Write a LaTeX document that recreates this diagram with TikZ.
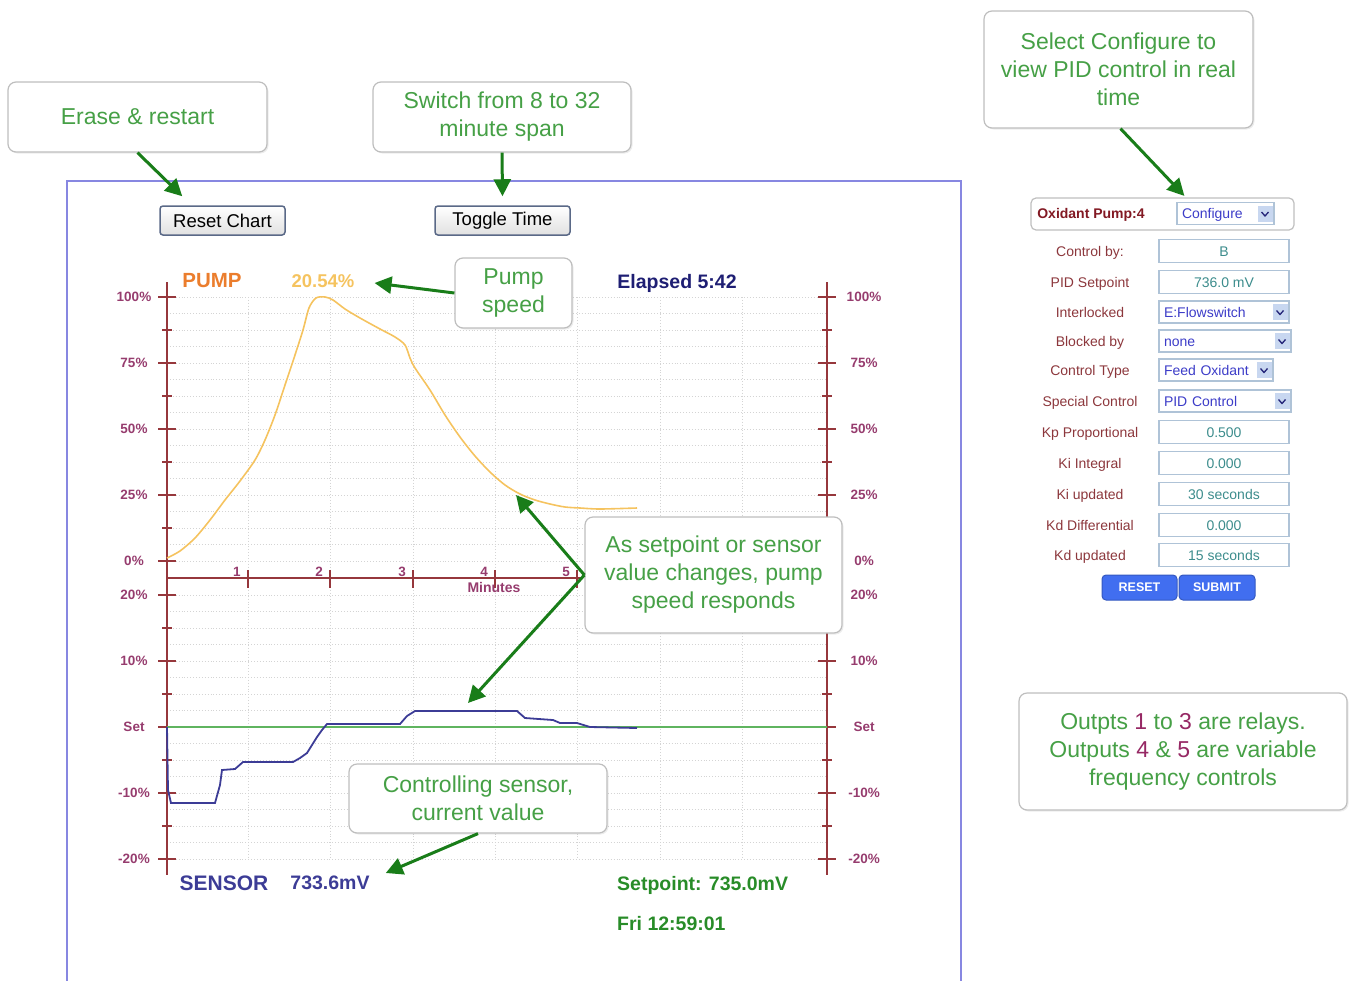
\documentclass[tikz,border=0pt]{standalone}
\usepackage{fontspec}
\setmainfont{Liberation Sans}
\usepackage{tikz}
\usetikzlibrary{positioning}
\usetikzlibrary{arrows.meta}
\usetikzlibrary{shadows}
\definecolor{notegreen}{RGB}{70,160,70}
\definecolor{notegray}{RGB}{190,190,190}
\definecolor{arrowgreen}{RGB}{25,125,25}
\definecolor{frameblue}{RGB}{135,135,225}
\definecolor{axisred}{RGB}{150,55,60}
\definecolor{axispurple}{RGB}{150,60,110}
\definecolor{pumporange}{RGB}{235,125,45}
\definecolor{pumpyellow}{RGB}{245,195,95}
\definecolor{elapsedblue}{RGB}{30,30,115}
\definecolor{sensorblue}{RGB}{60,60,150}
\definecolor{setgreen}{RGB}{40,140,40}
\definecolor{setline}{RGB}{95,180,95}
\definecolor{rowred}{RGB}{140,55,60}
\definecolor{headred}{RGB}{130,25,35}
\definecolor{fieldteal}{RGB}{60,140,140}
\definecolor{dropblue}{RGB}{60,60,200}
\definecolor{fieldedge}{RGB}{175,195,215}
\definecolor{btnlight}{RGB}{200,215,240}
\definecolor{btnblue}{RGB}{65,110,240}
\definecolor{btnedge}{RGB}{90,105,135}
\definecolor{numpurple}{RGB}{150,40,100}
\tikzstyle{note} = [rectangle, rounded corners=8pt, draw=notegray, line width=1.2pt, fill=white, text=notegreen, align=center, inner sep=0pt, font=\fontsize{23}{28}\selectfont, drop shadow={opacity=0.15, shadow xshift=1.5pt, shadow yshift=-1.5pt}]
\tikzstyle{arrow} = [line width=3pt, draw=arrowgreen, -{Triangle[length=17pt, width=17pt]}]
\tikzstyle{chartbtn} = [rectangle, rounded corners=3pt, draw=btnedge, line width=1.5pt, top color=white, bottom color=black!12, inner sep=0pt, minimum height=29pt, font=\fontsize{18.5}{20}\selectfont]
\tikzstyle{chartaxis} = [draw=axisred, line width=1.6pt]
\tikzstyle{gridline} = [draw=black!17, dotted, line width=0.9pt]
\tikzstyle{axlbl} = [text=axispurple, inner sep=0pt, text depth=0pt, font=\bfseries\fontsize{13.5}{15}\selectfont]
\tikzstyle{chartlbl} = [inner sep=0pt, text depth=0pt, font=\bfseries\fontsize{19.5}{22}\selectfont]
\tikzstyle{rowlbl} = [text=rowred, inner sep=0pt, text depth=0pt, font=\fontsize{14}{16}\selectfont]
\tikzstyle{field} = [rectangle, draw=fieldedge, line width=1.2pt, text=fieldteal, minimum width=130pt, minimum height=23pt, inner sep=0pt, text height=11pt, text depth=1pt, font=\fontsize{14}{16}\selectfont]
\tikzstyle{dropbox} = [rectangle, draw=fieldedge, line width=1.2pt, text=dropblue, minimum height=22pt, inner xsep=5pt, inner ysep=0pt, align=left, text height=11pt, text depth=1pt, font=\fontsize{14}{16}\selectfont]
\tikzstyle{dropbtn} = [rectangle, fill=btnlight, minimum width=15pt, minimum height=16pt, inner sep=0pt]
\tikzstyle{chev} = [draw=dropblue!60!black, line width=1.3pt]
\tikzstyle{formbtn} = [rectangle, rounded corners=4pt, fill=btnblue, draw=btnblue!80!black, line width=1pt, text=white, minimum height=25pt, inner sep=0pt, font=\bfseries\fontsize{12.5}{14}\selectfont]
\tikzstyle{panelhead} = [rectangle, rounded corners=5pt, draw=black!25, line width=1.2pt, minimum width=263pt, minimum height=32pt]
\newcommand{\outnum}[1]{\textcolor{numpurple}{#1}}
\newcommand{\dropArrow}[2]{\node (#1) [dropbtn] at (#2) {};
  \draw [chev] ([shift={(-3.5,-1.5)}]#1.center) -- ([shift={(0,2.5)}]#1.center) -- ([shift={(3.5,-1.5)}]#1.center);}

\begin{document}
\begin{tikzpicture}[x=1pt, y=-1pt, node distance=134pt]
        \useasboundingbox (0,0) rectangle (1351,980);
        \draw [draw=frameblue, line width=2pt] (67,990) -- (67,181) -- (961,181) -- (961,990);

        \foreach \k in {0,...,16} {
            \draw [gridline] (167,297+16.5*\k) -- (827,297+16.5*\k);
            \draw [gridline] (167,595+16.5*\k) -- (827,595+16.5*\k);
        }
        \foreach \x in {248,330,413,495,577,660,742} {\draw [gridline] (\x,297) -- (\x,859);}

        \draw [chartaxis] (167,282) -- (167,875);
        \draw [chartaxis] (827,282) -- (827,875);
        \draw [chartaxis, line width=2pt] (167,578) -- (582,578);
        \foreach \y/\lbl in {297/100\%,363/75\%,429/50\%,495/25\%,561/0\%,595/20\%,661/10\%,727/Set,793/-10\%,859/-20\%} {
            \draw [chartaxis] (158,\y) -- (176,\y);
            \draw [chartaxis] (818,\y) -- (836,\y);
            \node (lft\y) [axlbl] at (134,\y) {\lbl};
            \node (rgt\y) [axlbl] at (864,\y) {\lbl};
        }
        \foreach \y in {330,396,462,528,628,694,760,826} {
            \draw [chartaxis] (162,\y) -- (172,\y);
            \draw [chartaxis] (822,\y) -- (832,\y);
        }
        \foreach \x/\m in {248/1,330/2,413/3,495/4,577/5} {
            \draw [chartaxis] (\x,570) -- (\x,588);
            \node (min\m) [axlbl] at (\x-11,572) {\m};
        }
        \node (minutes) [axlbl, font=\bfseries\fontsize{14}{16}\selectfont] at (494,587) {Minutes};

        \draw [draw=setline, line width=1.5pt] (167,727) -- (827,727);
        \draw [draw=pumpyellow, line width=1.6pt] plot[smooth] coordinates {(167,558) (180,551) (195,538) (210,520) (225,500) (240,481) (255,460) (265,440) (275,415) (285,385) (295,355) (303,330) (309,308) (316,298) (325,297) (333,300) (345,309) (360,318) (380,329) (395,337) (405,345) (410,358) (415,368) (430,390) (445,415) (460,437) (475,456) (490,472) (505,485) (520,494) (535,500) (550,504) (565,507) (580,508) (600,509) (637,508)};
        \draw [draw=sensorblue, line width=1.8pt] (167,727) -- (168,790) -- (171,803) -- (215,803) -- (220,785) -- (222,770) -- (235,769) -- (243,762) -- (293,762) -- (300,758) -- (307,753) -- (312,745) -- (317,737) -- (322,730) -- (327,724) -- (400,724) -- (407,716) -- (415,711) -- (517,711) -- (525,718) -- (553,720) -- (560,723) -- (577,723) -- (590,727) -- (637,728);

        \node (pumpLbl) [chartlbl, text=pumporange, font=\bfseries\fontsize{20.5}{22}\selectfont] at (212,280) {PUMP};
        \node (pumpVal) [chartlbl, text=pumpyellow, font=\bfseries\fontsize{18.5}{22}\selectfont] at (323,281) {20.54\%};
        \node (elapsed) [chartlbl, text=elapsedblue] at (677,281) {Elapsed 5:42};
        \node (sensorLbl) [chartlbl, text=sensorblue, font=\bfseries\fontsize{21}{24}\selectfont] at (224,883) {SENSOR};
        \node (sensorVal) [chartlbl, text=sensorblue] at (330,883) {733.6mV};
        \node (setpoint) [chartlbl, text=setgreen, anchor=west] at (617,883) {Setpoint: 735.0mV};
        \node (clock) [chartlbl, text=setgreen, anchor=west] at (617,923) {Fri 12:59:01};

        \node (reset) [chartbtn, minimum width=125pt] at (222.5,220.5) {Reset Chart};
        \node (toggle) [chartbtn, minimum width=135pt] at (502.5,220.5) {Toggle Time};

        \node (erase) [note, minimum width=259pt, minimum height=70pt] at (137.5,117) {Erase \& restart};
        \node (switch) [note, minimum width=258pt, minimum height=70pt] at (502,117) {Switch from 8 to 32\\minute span};
        \node (config) [note, minimum width=269pt, minimum height=117pt] at (1118.5,69.5) {Select Configure to\\view PID control in real\\time};
        \node (speed) [note, minimum width=117pt, minimum height=70pt] at (513.5,293) {Pump\\speed};
        \node (respond) [note, minimum width=257pt, minimum height=116pt] at (713.5,575) {As setpoint or sensor\\value changes, pump\\speed responds};
        \node (ctrl) [note, minimum width=258pt, minimum height=69pt] at (478,798.5) {Controlling sensor,\\current value};
        \node (outputs) [note, minimum width=328pt, minimum height=117pt] at (1183,751.5) {Outpts \outnum{1} to \outnum{3} are relays.\\Outputs \outnum{4} \& \outnum{5} are variable\\frequency controls};

        \node (head) [panelhead] at (1162.5,214) {};
        \node (oxid) [rowlbl, text=headred, font=\bfseries\fontsize{14}{16}\selectfont] at (1091,213) {Oxidant Pump:4};
        \node (cfgDrop) [dropbox, text width=87pt] at (1225.5,213.5) {Configure};
        \dropArrow{cfgBtn}{1265,213.5}
        \node (lblCtrl) [rowlbl] at (1090,251) {Control by:};
        \node (fldCtrl) [field, right of=lblCtrl] {B};
        \node (lblSet) [rowlbl] at (1090,282) {PID Setpoint};
        \node (fldSet) [field, right of=lblSet] {736.0 mV};
        \node (lblLock) [rowlbl] at (1090,312) {Interlocked};
        \node (fldLock) [dropbox, text width=120pt, right of=lblLock] {E:Flowswitch};
        \dropArrow{btnLock}{1280,312}
        \node (lblBlock) [rowlbl] at (1090,341) {Blocked by};
        \node (fldBlock) [dropbox, text width=122pt, right of=lblBlock, xshift=1pt] {none};
        \dropArrow{btnBlock}{1282,341}
        \node (lblType) [rowlbl] at (1090,370) {Control Type};
        \node (fldType) [dropbox, text width=104pt, right of=lblType, xshift=-8pt] {Feed Oxidant};
        \dropArrow{btnType}{1264,370}
        \node (lblSpec) [rowlbl] at (1090,401) {Special Control};
        \node (fldSpec) [dropbox, text width=122pt, right of=lblSpec, xshift=1pt] {PID Control};
        \dropArrow{btnSpec}{1282,401}
        \node (lblKp) [rowlbl] at (1090,432) {Kp Proportional};
        \node (fldKp) [field, right of=lblKp] {0.500};
        \node (lblKi) [rowlbl] at (1090,463) {Ki Integral};
        \node (fldKi) [field, right of=lblKi] {0.000};
        \node (lblKiUp) [rowlbl] at (1090,494) {Ki updated};
        \node (fldKiUp) [field, right of=lblKiUp] {30 seconds};
        \node (lblKd) [rowlbl] at (1090,525) {Kd Differential};
        \node (fldKd) [field, right of=lblKd] {0.000};
        \node (lblKdUp) [rowlbl] at (1090,555) {Kd updated};
        \node (fldKdUp) [field, right of=lblKdUp] {15 seconds};
        \node (resetBtn) [formbtn, minimum width=75pt] at (1139.5,587.5) {RESET};
        \node (submitBtn) [formbtn, minimum width=76pt, right=1pt of resetBtn] {SUBMIT};

        \coordinate (pumpPt) at (516,495);
        \coordinate (sensorPt) at (468,703);
        \draw [arrow] (erase.south) -- ([shift={(23,-9)}]reset.north west);
        \draw [arrow] (switch.south) -- ([yshift=9pt]toggle.north);
        \draw [arrow] ([xshift=2pt]config.south) -- ([shift={(8,-6)}]cfgDrop.north west);
        \draw [arrow] (speed.west) -- ([shift={(20,2)}]pumpVal.east);
        \draw [arrow] (respond.west) -- (pumpPt);
        \draw [arrow] (respond.west) -- (sensorPt);
        \draw [arrow] (ctrl.south) -- ([shift={(16,-10)}]sensorVal.east);
    \end{tikzpicture}
\end{document}
